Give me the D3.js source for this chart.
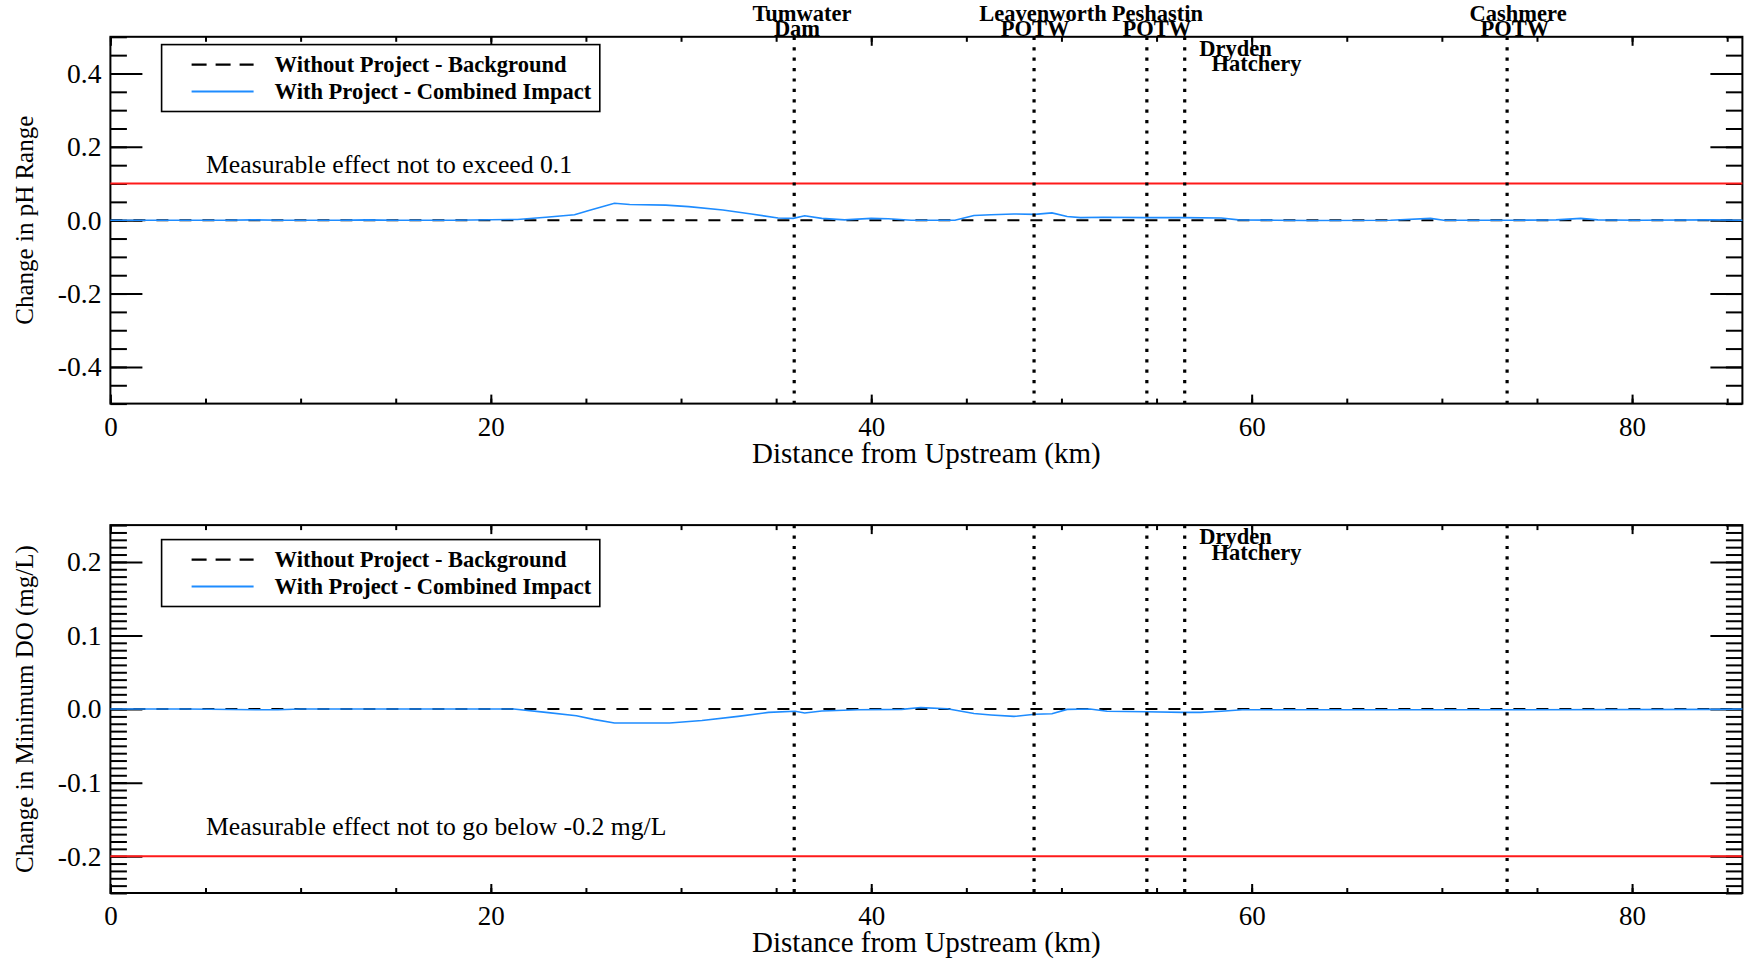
<!DOCTYPE html>
<html><head><meta charset="utf-8">
<script src="https://cdn.jsdelivr.net/npm/d3@7"></script>
<style>
body{margin:0;background:#fff}
svg{display:block}
text{font-family:"Liberation Serif","Times New Roman",serif;fill:#000}
</style>
</head><body>
<svg id="c" width="1748" height="960"></svg>
<script>
// ---------------- data ----------------
const xTicks = [0, 20, 40, 60, 80];
const xDomain = [0, 85.8];
const phTicks = [-0.4, -0.2, 0.0, 0.2, 0.4];
const doTicks = [-0.2, -0.1, 0.0, 0.1, 0.2];

const phKm = [0, 3, 6, 7.5, 9, 12, 13.5, 15, 18, 21.4, 22.9, 24.4, 25.2, 26.5, 27.3, 29.2, 30.4, 32.2, 33.7, 35.1, 35.9, 36.5, 37.4, 38.6, 40.0, 40.9, 42.1, 44.4, 45.4, 46.3, 47.5, 48.6, 49.5, 50.3, 51.0, 52.2, 54.4, 56.4, 58.4, 59.3, 61.2, 63.0, 67.3, 69.4, 70.1, 73.8, 76.0, 77.3, 78.2, 80.3, 84.2, 85.8];
const phWith = [0, 0, 0, 0.001, 0, 0, 0.001, 0, 0, 0.002, 0.008, 0.015, 0.027, 0.046, 0.043, 0.041, 0.037, 0.028, 0.017, 0.006, 0.005, 0.012, 0.005, 0.001, 0.005, 0.004, 0, 0, 0.013, 0.015, 0.017, 0.016, 0.020, 0.010, 0.007, 0.008, 0.007, 0.007, 0.006, 0.001, 0, -0.001, 0, 0.005, 0, 0, 0.001, 0.005, 0.001, 0, 0.001, 0];

const doKm = [0, 4, 8, 8.8, 10, 15, 20, 21.2, 22.9, 24.5, 25.4, 26.5, 29.4, 31.1, 33.0, 34.6, 36.0, 36.5, 37.4, 39.3, 41.6, 42.6, 44.0, 45.4, 46.3, 47.5, 48.6, 49.5, 50.3, 51.5, 52.4, 54.4, 56.4, 57.3, 58.4, 59.5, 63.0, 69.5, 73.8, 84.6, 85.8];
const doWith = [0, 0, -0.001, -0.001, 0, 0, 0, 0, -0.0045, -0.009, -0.014, -0.019, -0.019, -0.0155, -0.010, -0.0045, -0.003, -0.0054, -0.0027, -0.001, -0.0005, 0.002, 0.0005, -0.006, -0.008, -0.010, -0.007, -0.0063, -0.0005, 0, -0.003, -0.0036, -0.0045, -0.0045, -0.003, -0.001, -0.001, -0.001, -0.001, -0.0005, 0];

const bgKm = [0, 85.8];
const bgVal = [0, 0];

const siteNames = [["Tumwater", "Dam"], ["Leavenworth", "POTW"], ["Peshastin", "POTW"], ["Dryden", "Hatchery"], ["Cashmere", "POTW"]];
const siteKm = [35.95, 48.56, 54.49, 56.48, 73.43];

const legendLabels = ["Without Project - Background", "With Project - Combined Impact"];
const phLimit = 0.1, doLimit = -0.2;
const phNote = "Measurable effect not to exceed 0.1";
const doNote = "Measurable effect not to go below -0.2 mg/L";
const xTitle = "Distance from Upstream (km)";

// ---------------- drawing ----------------
const svg = d3.select("#c");
const L = 110.4, R = 1742.4;
const x = d3.scaleLinear().domain(xDomain).range([L, R]);
const BLUE = "#1e8cff", RED = "#ff1a1a";
const labelNudge = [[7.8, 2.8], [9, 1], [10.6, 10], [0, 0], [11, 7.8]];
const LBL = 22.5;

const panels = [
  {top: 36.8, bottom: 403.6, dom: [-0.5, 0.5], ticks: phTicks, minor: 0.05, km: phKm, vals: phWith,
   limit: phLimit, note: phNote, noteY: 173, yTitle: "Change in pH Range", topLabels: true, legOff: 7.8},
  {top: 525.1, bottom: 893, dom: [-0.25, 0.25], ticks: doTicks, minor: 0.01, km: doKm, vals: doWith,
   limit: doLimit, note: doNote, noteY: 835, yTitle: "Change in Minimum DO (mg/L)", topLabels: false, legOff: 14.5}
];

panels.forEach(p => {
  const y = d3.scaleLinear().domain(p.dom).range([p.bottom, p.top]);
  const g = svg.append("g");
  const minorTicks = d3.range(p.dom[0], p.dom[1] + 1e-9, p.minor).map(v => +v.toFixed(4));
  const xMinor = d3.range(0, xDomain[1], 5);

  const styleAx = sel => { sel.select(".domain").remove(); sel.selectAll("line").attr("stroke", "#000").attr("stroke-width", 2); };
  g.append("g").attr("transform", `translate(${L},0)`)
    .call(d3.axisLeft(y).tickValues(minorTicks).tickFormat("").tickSizeInner(-16.5).tickSizeOuter(0)).call(styleAx);
  g.append("g").attr("transform", `translate(${L},0)`)
    .call(d3.axisLeft(y).tickValues(p.ticks).tickFormat(d => d.toFixed(1)).tickSizeInner(-32).tickSizeOuter(0).tickPadding(9))
    .call(styleAx)
    .selectAll("text").attr("font-size", 27.5).style("font-family", '"Liberation Serif",serif');
  g.append("g").attr("transform", `translate(${R},0)`)
    .call(d3.axisRight(y).tickValues(minorTicks).tickFormat("").tickSizeInner(-16.5).tickSizeOuter(0)).call(styleAx);
  g.append("g").attr("transform", `translate(${R},0)`)
    .call(d3.axisRight(y).tickValues(p.ticks).tickFormat("").tickSizeInner(-32).tickSizeOuter(0)).call(styleAx);
  g.append("g").attr("transform", `translate(0,${p.bottom})`)
    .call(d3.axisBottom(x).tickValues(xMinor).tickFormat("").tickSizeInner(-5).tickSizeOuter(0)).call(styleAx);
  g.append("g").attr("transform", `translate(0,${p.bottom})`)
    .call(d3.axisBottom(x).tickValues(xTicks).tickFormat(d3.format("d")).tickSizeInner(-9).tickSizeOuter(0).tickPadding(13))
    .call(styleAx)
    .selectAll("text").attr("font-size", 27).style("font-family", '"Liberation Serif",serif');
  g.append("g").attr("transform", `translate(0,${p.top})`)
    .call(d3.axisTop(x).tickValues(xMinor).tickFormat("").tickSizeInner(-5).tickSizeOuter(0)).call(styleAx);
  g.append("g").attr("transform", `translate(0,${p.top})`)
    .call(d3.axisTop(x).tickValues(xTicks).tickFormat("").tickSizeInner(-9).tickSizeOuter(0)).call(styleAx);

  g.append("rect").attr("x", L).attr("y", p.top).attr("width", R - L).attr("height", p.bottom - p.top)
    .attr("fill", "none").attr("stroke", "#000").attr("stroke-width", 2);

  g.append("line").attr("x1", L).attr("x2", R).attr("y1", y(p.limit)).attr("y2", y(p.limit))
    .attr("stroke", RED).attr("stroke-width", 2);
  g.append("text").attr("x", 206).attr("y", p.noteY).attr("font-size", 25.7).text(p.note);

  const line = d3.line().x(d => x(d[0])).y(d => y(d[1]));
  g.append("path").datum(bgKm.map((k, i) => [k, bgVal[i]])).attr("d", line)
    .attr("fill", "none").attr("stroke", "#000").attr("stroke-width", 2).attr("stroke-dasharray", "12,11");
  g.append("path").datum(p.km.map((k, i) => [k, p.vals[i]])).attr("d", line)
    .attr("fill", "none").attr("stroke", BLUE).attr("stroke-width", 1.6);

  siteKm.forEach(k => {
    g.append("line").attr("x1", x(k)).attr("x2", x(k)).attr("y1", p.top).attr("y2", p.bottom)
      .attr("stroke", "#000").attr("stroke-width", 3.2).attr("stroke-dasharray", "3.2,7.2");
  });
  siteKm.forEach((k, i) => {
    const nm = siteNames[i];
    if (nm[0] === "Dryden") {
      g.append("text").attr("x", x(k) + 14.5).attr("y", p.top + 19).attr("font-size", LBL).attr("font-weight", "bold").text(nm[0]);
      g.append("text").attr("x", x(k) + 26.8).attr("y", p.top + 34.5).attr("font-size", LBL).attr("font-weight", "bold").text(nm[1]);
    } else if (p.topLabels) {
      g.append("text").attr("x", x(k) + labelNudge[i][0]).attr("y", p.top - 15.5).attr("text-anchor", "middle").attr("font-size", LBL).attr("font-weight", "bold").text(nm[0]);
      g.append("text").attr("x", x(k) + labelNudge[i][1]).attr("y", p.top - 0.5).attr("text-anchor", "middle").attr("font-size", LBL).attr("font-weight", "bold").text(nm[1]);
    }
  });

  const lx = 161.6, ly = p.top + p.legOff, lw = 438.2, lh = 66.9;
  g.append("rect").attr("x", lx).attr("y", ly).attr("width", lw).attr("height", lh)
    .attr("fill", "#fff").attr("stroke", "#000").attr("stroke-width", 1.6);
  legendLabels.forEach((t, i) => {
    const yy = ly + 20 + i * 26.8;
    g.append("line").attr("x1", lx + 30).attr("x2", lx + 92).attr("y1", yy).attr("y2", yy)
      .attr("stroke", i === 0 ? "#000" : BLUE).attr("stroke-width", i === 0 ? 2.2 : 2)
      .attr("stroke-dasharray", i === 0 ? "15,9" : null);
    g.append("text").attr("x", lx + 113).attr("y", yy + 7.5).attr("font-size", LBL).attr("font-weight", "bold").text(t);
  });

  g.append("text").attr("x", (L + R) / 2).attr("y", p.bottom + 59).attr("text-anchor", "middle")
    .attr("font-size", 29).text(xTitle);
  g.append("text").attr("transform", `translate(33,${(p.top + p.bottom) / 2}) rotate(-90)`)
    .attr("text-anchor", "middle").attr("font-size", 25).text(p.yTitle);
});
</script>
</body></html>
